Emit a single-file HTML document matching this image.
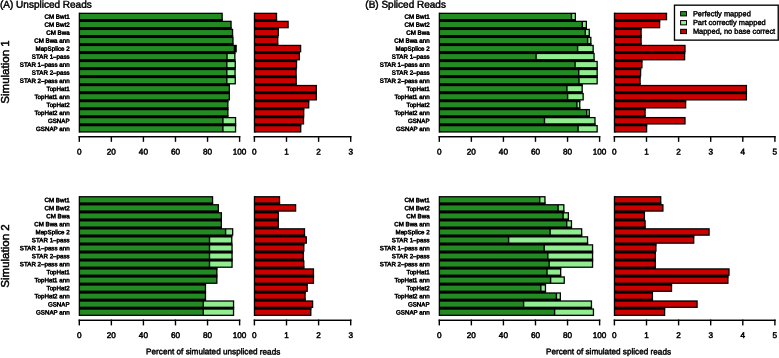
<!DOCTYPE html>
<html><head><meta charset="utf-8"><title>Figure</title>
<style>
html,body{margin:0;padding:0;background:#fff;}
body{width:779px;height:358px;overflow:hidden;position:relative;font-family:"Liberation Sans",sans-serif;color:#000;}
#c{position:absolute;left:0;top:0;width:779px;height:358px;overflow:hidden;will-change:transform;}
#c div{position:absolute;}
#c span{position:absolute;left:0;top:0;white-space:nowrap;display:block;transform-origin:0 0;}
.tk{width:40px;text-align:center;font-size:8.2px;line-height:10px;height:10px;-webkit-text-stroke:0.5px #000;}
.lb{text-align:right;font-size:6.2px;line-height:8px;height:8px;-webkit-text-stroke:0.5px #000;}
.tt{font-size:10px;line-height:12px;-webkit-text-stroke:0.45px #000;}
.xt{text-align:center;font-size:8.2px;line-height:10px;-webkit-text-stroke:0.45px #000;}
#c .yt{text-align:center;font-size:11.5px;line-height:16px;height:16px;transform:scaleX(1.02) rotate(-90deg);transform-origin:50% 50%;-webkit-text-stroke:0.48px #000;}
.lt{font-size:7.45px;line-height:10px;height:10px;-webkit-text-stroke:0.42px #000;}
</style></head><body><div id="c">
<svg width="779" height="358" viewBox="0 0 779 358" style="position:absolute;left:0;top:0">
<rect x="78.70" y="12.70" width="1.60" height="119.88" fill="#000"/>
<rect x="79.30" y="12.70" width="143.50" height="7.60" fill="#000"/>
<rect x="79.30" y="19.00" width="143.50" height="3.02" fill="#000"/>
<rect x="80.05" y="14.00" width="141.45" height="5.00" fill="#228B22"/>
<rect x="79.30" y="20.72" width="152.40" height="7.60" fill="#000"/>
<rect x="79.30" y="27.02" width="152.40" height="3.02" fill="#000"/>
<rect x="80.05" y="22.02" width="150.35" height="5.00" fill="#228B22"/>
<rect x="79.30" y="28.74" width="153.90" height="7.60" fill="#000"/>
<rect x="79.30" y="35.04" width="153.90" height="3.02" fill="#000"/>
<rect x="80.05" y="30.04" width="151.85" height="5.00" fill="#228B22"/>
<rect x="79.30" y="36.76" width="154.30" height="7.60" fill="#000"/>
<rect x="79.30" y="43.06" width="154.30" height="3.02" fill="#000"/>
<rect x="80.05" y="38.06" width="152.25" height="5.00" fill="#228B22"/>
<rect x="79.30" y="44.78" width="157.50" height="7.60" fill="#000"/>
<rect x="79.30" y="51.08" width="156.20" height="3.02" fill="#000"/>
<rect x="80.05" y="46.08" width="153.65" height="5.00" fill="#228B22"/>
<rect x="79.30" y="52.80" width="156.20" height="7.60" fill="#000"/>
<rect x="79.30" y="59.10" width="156.20" height="3.02" fill="#000"/>
<rect x="80.05" y="54.10" width="146.25" height="5.00" fill="#228B22"/>
<rect x="227.70" y="54.10" width="6.50" height="5.00" fill="#90EE90"/>
<rect x="79.30" y="60.82" width="156.60" height="7.60" fill="#000"/>
<rect x="79.30" y="67.12" width="156.40" height="3.02" fill="#000"/>
<rect x="80.05" y="62.12" width="146.05" height="5.00" fill="#228B22"/>
<rect x="227.50" y="62.12" width="7.10" height="5.00" fill="#90EE90"/>
<rect x="79.30" y="68.84" width="156.40" height="7.60" fill="#000"/>
<rect x="79.30" y="75.14" width="156.40" height="3.02" fill="#000"/>
<rect x="80.05" y="70.14" width="146.05" height="5.00" fill="#228B22"/>
<rect x="227.50" y="70.14" width="6.90" height="5.00" fill="#90EE90"/>
<rect x="79.30" y="76.86" width="156.60" height="7.60" fill="#000"/>
<rect x="79.30" y="83.16" width="150.70" height="3.02" fill="#000"/>
<rect x="80.05" y="78.16" width="146.05" height="5.00" fill="#228B22"/>
<rect x="227.50" y="78.16" width="7.10" height="5.00" fill="#90EE90"/>
<rect x="79.30" y="84.88" width="150.70" height="7.60" fill="#000"/>
<rect x="79.30" y="91.18" width="150.70" height="3.02" fill="#000"/>
<rect x="80.05" y="86.18" width="148.65" height="5.00" fill="#228B22"/>
<rect x="79.30" y="92.90" width="150.70" height="7.60" fill="#000"/>
<rect x="79.30" y="99.20" width="149.20" height="3.02" fill="#000"/>
<rect x="80.05" y="94.20" width="148.65" height="5.00" fill="#228B22"/>
<rect x="79.30" y="100.92" width="149.20" height="7.60" fill="#000"/>
<rect x="79.30" y="107.22" width="149.20" height="3.02" fill="#000"/>
<rect x="80.05" y="102.22" width="147.15" height="5.00" fill="#228B22"/>
<rect x="79.30" y="108.94" width="149.20" height="7.60" fill="#000"/>
<rect x="79.30" y="115.24" width="149.20" height="3.02" fill="#000"/>
<rect x="80.05" y="110.24" width="147.15" height="5.00" fill="#228B22"/>
<rect x="79.30" y="116.96" width="156.90" height="7.60" fill="#000"/>
<rect x="79.30" y="123.26" width="156.90" height="3.02" fill="#000"/>
<rect x="80.05" y="118.26" width="142.15" height="5.00" fill="#228B22"/>
<rect x="223.60" y="118.26" width="11.30" height="5.00" fill="#90EE90"/>
<rect x="79.30" y="124.98" width="156.90" height="7.60" fill="#000"/>
<rect x="80.05" y="126.28" width="142.15" height="5.00" fill="#228B22"/>
<rect x="223.60" y="126.28" width="11.30" height="5.00" fill="#90EE90"/>
<rect x="253.80" y="12.70" width="1.60" height="119.88" fill="#000"/>
<rect x="254.40" y="12.70" width="22.75" height="7.60" fill="#000"/>
<rect x="254.40" y="19.00" width="22.75" height="3.02" fill="#000"/>
<rect x="255.15" y="14.00" width="20.70" height="5.00" fill="#CD0000"/>
<rect x="254.40" y="20.72" width="34.35" height="7.60" fill="#000"/>
<rect x="254.40" y="27.02" width="24.55" height="3.02" fill="#000"/>
<rect x="255.15" y="22.02" width="32.30" height="5.00" fill="#CD0000"/>
<rect x="254.40" y="28.74" width="24.55" height="7.60" fill="#000"/>
<rect x="254.40" y="35.04" width="23.95" height="3.02" fill="#000"/>
<rect x="255.15" y="30.04" width="22.50" height="5.00" fill="#CD0000"/>
<rect x="254.40" y="36.76" width="23.95" height="7.60" fill="#000"/>
<rect x="254.40" y="43.06" width="23.95" height="3.02" fill="#000"/>
<rect x="255.15" y="38.06" width="21.90" height="5.00" fill="#CD0000"/>
<rect x="254.40" y="44.78" width="46.85" height="7.60" fill="#000"/>
<rect x="254.40" y="51.08" width="45.55" height="3.02" fill="#000"/>
<rect x="255.15" y="46.08" width="44.80" height="5.00" fill="#CD0000"/>
<rect x="254.40" y="52.80" width="45.55" height="7.60" fill="#000"/>
<rect x="254.40" y="59.10" width="42.75" height="3.02" fill="#000"/>
<rect x="255.15" y="54.10" width="43.50" height="5.00" fill="#CD0000"/>
<rect x="254.40" y="60.82" width="42.75" height="7.60" fill="#000"/>
<rect x="254.40" y="67.12" width="42.35" height="3.02" fill="#000"/>
<rect x="255.15" y="62.12" width="40.70" height="5.00" fill="#CD0000"/>
<rect x="254.40" y="68.84" width="42.35" height="7.60" fill="#000"/>
<rect x="254.40" y="75.14" width="42.35" height="3.02" fill="#000"/>
<rect x="255.15" y="70.14" width="40.30" height="5.00" fill="#CD0000"/>
<rect x="254.40" y="76.86" width="42.45" height="7.60" fill="#000"/>
<rect x="254.40" y="83.16" width="42.45" height="3.02" fill="#000"/>
<rect x="255.15" y="78.16" width="40.40" height="5.00" fill="#CD0000"/>
<rect x="254.40" y="84.88" width="62.55" height="7.60" fill="#000"/>
<rect x="254.40" y="91.18" width="62.55" height="3.02" fill="#000"/>
<rect x="255.15" y="86.18" width="60.50" height="5.00" fill="#CD0000"/>
<rect x="254.40" y="92.90" width="62.55" height="7.60" fill="#000"/>
<rect x="254.40" y="99.20" width="54.95" height="3.02" fill="#000"/>
<rect x="255.15" y="94.20" width="60.50" height="5.00" fill="#CD0000"/>
<rect x="254.40" y="100.92" width="54.95" height="7.60" fill="#000"/>
<rect x="254.40" y="107.22" width="49.95" height="3.02" fill="#000"/>
<rect x="255.15" y="102.22" width="52.90" height="5.00" fill="#CD0000"/>
<rect x="254.40" y="108.94" width="49.95" height="7.60" fill="#000"/>
<rect x="254.40" y="115.24" width="49.75" height="3.02" fill="#000"/>
<rect x="255.15" y="110.24" width="47.90" height="5.00" fill="#CD0000"/>
<rect x="254.40" y="116.96" width="49.75" height="7.60" fill="#000"/>
<rect x="254.40" y="123.26" width="46.95" height="3.02" fill="#000"/>
<rect x="255.15" y="118.26" width="47.70" height="5.00" fill="#CD0000"/>
<rect x="254.40" y="124.98" width="46.95" height="7.60" fill="#000"/>
<rect x="255.15" y="126.28" width="44.90" height="5.00" fill="#CD0000"/>
<rect x="438.70" y="12.70" width="1.60" height="119.88" fill="#000"/>
<rect x="439.30" y="12.70" width="136.70" height="7.60" fill="#000"/>
<rect x="439.30" y="19.00" width="136.70" height="3.02" fill="#000"/>
<rect x="440.05" y="14.00" width="130.75" height="5.00" fill="#228B22"/>
<rect x="572.20" y="14.00" width="2.50" height="5.00" fill="#90EE90"/>
<rect x="439.30" y="20.72" width="147.70" height="7.60" fill="#000"/>
<rect x="439.30" y="27.02" width="147.70" height="3.02" fill="#000"/>
<rect x="440.05" y="22.02" width="141.55" height="5.00" fill="#228B22"/>
<rect x="583.00" y="22.02" width="2.70" height="5.00" fill="#90EE90"/>
<rect x="439.30" y="28.74" width="150.60" height="7.60" fill="#000"/>
<rect x="439.30" y="35.04" width="150.60" height="3.02" fill="#000"/>
<rect x="440.05" y="30.04" width="144.55" height="5.00" fill="#228B22"/>
<rect x="586.00" y="30.04" width="2.60" height="5.00" fill="#90EE90"/>
<rect x="439.30" y="36.76" width="152.20" height="7.60" fill="#000"/>
<rect x="439.30" y="43.06" width="152.20" height="3.02" fill="#000"/>
<rect x="440.05" y="38.06" width="146.85" height="5.00" fill="#228B22"/>
<rect x="588.30" y="38.06" width="1.90" height="5.00" fill="#90EE90"/>
<rect x="439.30" y="44.78" width="154.50" height="7.60" fill="#000"/>
<rect x="439.30" y="51.08" width="154.50" height="3.02" fill="#000"/>
<rect x="440.05" y="46.08" width="136.85" height="5.00" fill="#228B22"/>
<rect x="578.30" y="46.08" width="14.20" height="5.00" fill="#90EE90"/>
<rect x="439.30" y="52.80" width="155.40" height="7.60" fill="#000"/>
<rect x="439.30" y="59.10" width="155.40" height="3.02" fill="#000"/>
<rect x="440.05" y="54.10" width="95.35" height="5.00" fill="#228B22"/>
<rect x="536.80" y="54.10" width="56.60" height="5.00" fill="#90EE90"/>
<rect x="439.30" y="60.82" width="158.50" height="7.60" fill="#000"/>
<rect x="439.30" y="67.12" width="158.50" height="3.02" fill="#000"/>
<rect x="440.05" y="62.12" width="134.35" height="5.00" fill="#228B22"/>
<rect x="575.80" y="62.12" width="20.70" height="5.00" fill="#90EE90"/>
<rect x="439.30" y="68.84" width="158.50" height="7.60" fill="#000"/>
<rect x="439.30" y="75.14" width="158.50" height="3.02" fill="#000"/>
<rect x="440.05" y="70.14" width="137.95" height="5.00" fill="#228B22"/>
<rect x="579.40" y="70.14" width="17.10" height="5.00" fill="#90EE90"/>
<rect x="439.30" y="76.86" width="158.50" height="7.60" fill="#000"/>
<rect x="439.30" y="83.16" width="143.50" height="3.02" fill="#000"/>
<rect x="440.05" y="78.16" width="138.25" height="5.00" fill="#228B22"/>
<rect x="579.70" y="78.16" width="16.80" height="5.00" fill="#90EE90"/>
<rect x="439.30" y="84.88" width="143.50" height="7.60" fill="#000"/>
<rect x="439.30" y="91.18" width="143.50" height="3.02" fill="#000"/>
<rect x="440.05" y="86.18" width="126.15" height="5.00" fill="#228B22"/>
<rect x="567.60" y="86.18" width="13.90" height="5.00" fill="#90EE90"/>
<rect x="439.30" y="92.90" width="144.50" height="7.60" fill="#000"/>
<rect x="439.30" y="99.20" width="141.10" height="3.02" fill="#000"/>
<rect x="440.05" y="94.20" width="126.85" height="5.00" fill="#228B22"/>
<rect x="568.30" y="94.20" width="14.20" height="5.00" fill="#90EE90"/>
<rect x="439.30" y="100.92" width="141.10" height="7.60" fill="#000"/>
<rect x="439.30" y="107.22" width="141.10" height="3.02" fill="#000"/>
<rect x="440.05" y="102.22" width="136.15" height="5.00" fill="#228B22"/>
<rect x="577.60" y="102.22" width="1.50" height="5.00" fill="#90EE90"/>
<rect x="439.30" y="108.94" width="150.60" height="7.60" fill="#000"/>
<rect x="439.30" y="115.24" width="150.60" height="3.02" fill="#000"/>
<rect x="440.05" y="110.24" width="145.95" height="5.00" fill="#228B22"/>
<rect x="587.40" y="110.24" width="1.20" height="5.00" fill="#90EE90"/>
<rect x="439.30" y="116.96" width="156.30" height="7.60" fill="#000"/>
<rect x="439.30" y="123.26" width="156.30" height="3.02" fill="#000"/>
<rect x="440.05" y="118.26" width="103.75" height="5.00" fill="#228B22"/>
<rect x="545.20" y="118.26" width="49.10" height="5.00" fill="#90EE90"/>
<rect x="439.30" y="124.98" width="158.50" height="7.60" fill="#000"/>
<rect x="440.05" y="126.28" width="137.35" height="5.00" fill="#228B22"/>
<rect x="578.80" y="126.28" width="17.70" height="5.00" fill="#90EE90"/>
<rect x="613.80" y="12.70" width="1.60" height="119.88" fill="#000"/>
<rect x="614.40" y="12.70" width="52.75" height="7.60" fill="#000"/>
<rect x="614.40" y="19.00" width="45.85" height="3.02" fill="#000"/>
<rect x="615.15" y="14.00" width="50.70" height="5.00" fill="#CD0000"/>
<rect x="614.40" y="20.72" width="45.85" height="7.60" fill="#000"/>
<rect x="614.40" y="27.02" width="27.35" height="3.02" fill="#000"/>
<rect x="615.15" y="22.02" width="43.80" height="5.00" fill="#CD0000"/>
<rect x="614.40" y="28.74" width="27.35" height="7.60" fill="#000"/>
<rect x="614.40" y="35.04" width="27.35" height="3.02" fill="#000"/>
<rect x="615.15" y="30.04" width="25.30" height="5.00" fill="#CD0000"/>
<rect x="614.40" y="36.76" width="27.35" height="7.60" fill="#000"/>
<rect x="614.40" y="43.06" width="27.35" height="3.02" fill="#000"/>
<rect x="615.15" y="38.06" width="25.30" height="5.00" fill="#CD0000"/>
<rect x="614.40" y="44.78" width="71.25" height="7.60" fill="#000"/>
<rect x="614.40" y="51.08" width="70.85" height="3.02" fill="#000"/>
<rect x="615.15" y="46.08" width="69.20" height="5.00" fill="#CD0000"/>
<rect x="614.40" y="52.80" width="70.85" height="7.60" fill="#000"/>
<rect x="614.40" y="59.10" width="28.15" height="3.02" fill="#000"/>
<rect x="615.15" y="54.10" width="68.80" height="5.00" fill="#CD0000"/>
<rect x="614.40" y="60.82" width="28.15" height="7.60" fill="#000"/>
<rect x="614.40" y="67.12" width="26.85" height="3.02" fill="#000"/>
<rect x="615.15" y="62.12" width="26.10" height="5.00" fill="#CD0000"/>
<rect x="614.40" y="68.84" width="26.85" height="7.60" fill="#000"/>
<rect x="614.40" y="75.14" width="26.35" height="3.02" fill="#000"/>
<rect x="615.15" y="70.14" width="24.80" height="5.00" fill="#CD0000"/>
<rect x="614.40" y="76.86" width="26.35" height="7.60" fill="#000"/>
<rect x="614.40" y="83.16" width="26.35" height="3.02" fill="#000"/>
<rect x="615.15" y="78.16" width="24.30" height="5.00" fill="#CD0000"/>
<rect x="614.40" y="84.88" width="132.65" height="7.60" fill="#000"/>
<rect x="614.40" y="91.18" width="132.65" height="3.02" fill="#000"/>
<rect x="615.15" y="86.18" width="130.60" height="5.00" fill="#CD0000"/>
<rect x="614.40" y="92.90" width="132.65" height="7.60" fill="#000"/>
<rect x="614.40" y="99.20" width="71.85" height="3.02" fill="#000"/>
<rect x="615.15" y="94.20" width="130.60" height="5.00" fill="#CD0000"/>
<rect x="614.40" y="100.92" width="71.85" height="7.60" fill="#000"/>
<rect x="614.40" y="107.22" width="31.35" height="3.02" fill="#000"/>
<rect x="615.15" y="102.22" width="69.80" height="5.00" fill="#CD0000"/>
<rect x="614.40" y="108.94" width="31.35" height="7.60" fill="#000"/>
<rect x="614.40" y="115.24" width="31.35" height="3.02" fill="#000"/>
<rect x="615.15" y="110.24" width="29.30" height="5.00" fill="#CD0000"/>
<rect x="614.40" y="116.96" width="71.25" height="7.60" fill="#000"/>
<rect x="614.40" y="123.26" width="32.85" height="3.02" fill="#000"/>
<rect x="615.15" y="118.26" width="69.20" height="5.00" fill="#CD0000"/>
<rect x="614.40" y="124.98" width="32.85" height="7.60" fill="#000"/>
<rect x="615.15" y="126.28" width="30.80" height="5.00" fill="#CD0000"/>
<rect x="78.60" y="136.00" width="161.70" height="1.45" fill="#000"/>
<rect x="78.60" y="136.00" width="1.40" height="5.85" fill="#000"/>
<rect x="110.66" y="136.00" width="1.40" height="5.85" fill="#000"/>
<rect x="142.72" y="136.00" width="1.40" height="5.85" fill="#000"/>
<rect x="174.78" y="136.00" width="1.40" height="5.85" fill="#000"/>
<rect x="206.84" y="136.00" width="1.40" height="5.85" fill="#000"/>
<rect x="238.90" y="136.00" width="1.40" height="5.85" fill="#000"/>
<rect x="253.70" y="136.00" width="97.70" height="1.45" fill="#000"/>
<rect x="253.70" y="136.00" width="1.40" height="5.85" fill="#000"/>
<rect x="285.80" y="136.00" width="1.40" height="5.85" fill="#000"/>
<rect x="317.90" y="136.00" width="1.40" height="5.85" fill="#000"/>
<rect x="350.00" y="136.00" width="1.40" height="5.85" fill="#000"/>
<rect x="438.60" y="136.00" width="161.70" height="1.45" fill="#000"/>
<rect x="438.60" y="136.00" width="1.40" height="5.85" fill="#000"/>
<rect x="470.66" y="136.00" width="1.40" height="5.85" fill="#000"/>
<rect x="502.72" y="136.00" width="1.40" height="5.85" fill="#000"/>
<rect x="534.78" y="136.00" width="1.40" height="5.85" fill="#000"/>
<rect x="566.84" y="136.00" width="1.40" height="5.85" fill="#000"/>
<rect x="598.90" y="136.00" width="1.40" height="5.85" fill="#000"/>
<rect x="613.70" y="136.00" width="161.90" height="1.45" fill="#000"/>
<rect x="613.70" y="136.00" width="1.40" height="5.85" fill="#000"/>
<rect x="645.80" y="136.00" width="1.40" height="5.85" fill="#000"/>
<rect x="677.90" y="136.00" width="1.40" height="5.85" fill="#000"/>
<rect x="710.00" y="136.00" width="1.40" height="5.85" fill="#000"/>
<rect x="742.10" y="136.00" width="1.40" height="5.85" fill="#000"/>
<rect x="774.20" y="136.00" width="1.40" height="5.85" fill="#000"/>
<rect x="78.70" y="196.10" width="1.60" height="119.88" fill="#000"/>
<rect x="79.30" y="196.10" width="133.90" height="7.60" fill="#000"/>
<rect x="79.30" y="202.40" width="133.90" height="3.02" fill="#000"/>
<rect x="80.05" y="197.40" width="131.85" height="5.00" fill="#228B22"/>
<rect x="79.30" y="204.12" width="139.70" height="7.60" fill="#000"/>
<rect x="79.30" y="210.42" width="139.70" height="3.02" fill="#000"/>
<rect x="80.05" y="205.42" width="137.65" height="5.00" fill="#228B22"/>
<rect x="79.30" y="212.14" width="142.70" height="7.60" fill="#000"/>
<rect x="79.30" y="218.44" width="142.70" height="3.02" fill="#000"/>
<rect x="80.05" y="213.44" width="140.65" height="5.00" fill="#228B22"/>
<rect x="79.30" y="220.16" width="142.70" height="7.60" fill="#000"/>
<rect x="79.30" y="226.46" width="142.70" height="3.02" fill="#000"/>
<rect x="80.05" y="221.46" width="140.65" height="5.00" fill="#228B22"/>
<rect x="79.30" y="228.18" width="154.00" height="7.60" fill="#000"/>
<rect x="79.30" y="234.48" width="153.10" height="3.02" fill="#000"/>
<rect x="80.05" y="229.48" width="144.85" height="5.00" fill="#228B22"/>
<rect x="226.30" y="229.48" width="5.70" height="5.00" fill="#90EE90"/>
<rect x="79.30" y="236.20" width="153.10" height="7.60" fill="#000"/>
<rect x="79.30" y="242.50" width="153.10" height="3.02" fill="#000"/>
<rect x="80.05" y="237.50" width="128.75" height="5.00" fill="#228B22"/>
<rect x="210.20" y="237.50" width="20.90" height="5.00" fill="#90EE90"/>
<rect x="79.30" y="244.22" width="153.40" height="7.60" fill="#000"/>
<rect x="79.30" y="250.52" width="153.40" height="3.02" fill="#000"/>
<rect x="80.05" y="245.52" width="128.75" height="5.00" fill="#228B22"/>
<rect x="210.20" y="245.52" width="21.20" height="5.00" fill="#90EE90"/>
<rect x="79.30" y="252.24" width="153.40" height="7.60" fill="#000"/>
<rect x="79.30" y="258.54" width="153.40" height="3.02" fill="#000"/>
<rect x="80.05" y="253.54" width="128.75" height="5.00" fill="#228B22"/>
<rect x="210.20" y="253.54" width="21.20" height="5.00" fill="#90EE90"/>
<rect x="79.30" y="260.26" width="153.40" height="7.60" fill="#000"/>
<rect x="79.30" y="266.56" width="138.20" height="3.02" fill="#000"/>
<rect x="80.05" y="261.56" width="128.75" height="5.00" fill="#228B22"/>
<rect x="210.20" y="261.56" width="21.20" height="5.00" fill="#90EE90"/>
<rect x="79.30" y="268.28" width="138.20" height="7.60" fill="#000"/>
<rect x="79.30" y="274.58" width="138.20" height="3.02" fill="#000"/>
<rect x="80.05" y="269.58" width="136.15" height="5.00" fill="#228B22"/>
<rect x="79.30" y="276.30" width="138.20" height="7.60" fill="#000"/>
<rect x="79.30" y="282.60" width="126.80" height="3.02" fill="#000"/>
<rect x="80.05" y="277.60" width="136.15" height="5.00" fill="#228B22"/>
<rect x="79.30" y="284.32" width="126.80" height="7.60" fill="#000"/>
<rect x="79.30" y="290.62" width="126.80" height="3.02" fill="#000"/>
<rect x="80.05" y="285.62" width="124.75" height="5.00" fill="#228B22"/>
<rect x="79.30" y="292.34" width="126.80" height="7.60" fill="#000"/>
<rect x="79.30" y="298.64" width="126.80" height="3.02" fill="#000"/>
<rect x="80.05" y="293.64" width="124.75" height="5.00" fill="#228B22"/>
<rect x="79.30" y="300.36" width="154.90" height="7.60" fill="#000"/>
<rect x="79.30" y="306.66" width="154.90" height="3.02" fill="#000"/>
<rect x="80.05" y="301.66" width="122.55" height="5.00" fill="#228B22"/>
<rect x="204.00" y="301.66" width="28.90" height="5.00" fill="#90EE90"/>
<rect x="79.30" y="308.38" width="154.90" height="7.60" fill="#000"/>
<rect x="80.05" y="309.68" width="122.55" height="5.00" fill="#228B22"/>
<rect x="204.00" y="309.68" width="28.90" height="5.00" fill="#90EE90"/>
<rect x="253.80" y="196.10" width="1.60" height="119.88" fill="#000"/>
<rect x="254.40" y="196.10" width="25.75" height="7.60" fill="#000"/>
<rect x="254.40" y="202.40" width="25.75" height="3.02" fill="#000"/>
<rect x="255.15" y="197.40" width="23.70" height="5.00" fill="#CD0000"/>
<rect x="254.40" y="204.12" width="41.85" height="7.60" fill="#000"/>
<rect x="254.40" y="210.42" width="24.55" height="3.02" fill="#000"/>
<rect x="255.15" y="205.42" width="39.80" height="5.00" fill="#CD0000"/>
<rect x="254.40" y="212.14" width="24.55" height="7.60" fill="#000"/>
<rect x="254.40" y="218.44" width="24.55" height="3.02" fill="#000"/>
<rect x="255.15" y="213.44" width="22.50" height="5.00" fill="#CD0000"/>
<rect x="254.40" y="220.16" width="24.55" height="7.60" fill="#000"/>
<rect x="254.40" y="226.46" width="24.55" height="3.02" fill="#000"/>
<rect x="255.15" y="221.46" width="22.50" height="5.00" fill="#CD0000"/>
<rect x="254.40" y="228.18" width="50.75" height="7.60" fill="#000"/>
<rect x="254.40" y="234.48" width="50.75" height="3.02" fill="#000"/>
<rect x="255.15" y="229.48" width="48.70" height="5.00" fill="#CD0000"/>
<rect x="254.40" y="236.20" width="52.55" height="7.60" fill="#000"/>
<rect x="254.40" y="242.50" width="50.05" height="3.02" fill="#000"/>
<rect x="255.15" y="237.50" width="50.50" height="5.00" fill="#CD0000"/>
<rect x="254.40" y="244.22" width="50.05" height="7.60" fill="#000"/>
<rect x="254.40" y="250.52" width="49.55" height="3.02" fill="#000"/>
<rect x="255.15" y="245.52" width="48.00" height="5.00" fill="#CD0000"/>
<rect x="254.40" y="252.24" width="49.55" height="7.60" fill="#000"/>
<rect x="254.40" y="258.54" width="49.55" height="3.02" fill="#000"/>
<rect x="255.15" y="253.54" width="47.50" height="5.00" fill="#CD0000"/>
<rect x="254.40" y="260.26" width="50.05" height="7.60" fill="#000"/>
<rect x="254.40" y="266.56" width="50.05" height="3.02" fill="#000"/>
<rect x="255.15" y="261.56" width="48.00" height="5.00" fill="#CD0000"/>
<rect x="254.40" y="268.28" width="59.70" height="7.60" fill="#000"/>
<rect x="254.40" y="274.58" width="59.70" height="3.02" fill="#000"/>
<rect x="255.15" y="269.58" width="57.65" height="5.00" fill="#CD0000"/>
<rect x="254.40" y="276.30" width="59.70" height="7.60" fill="#000"/>
<rect x="254.40" y="282.60" width="53.45" height="3.02" fill="#000"/>
<rect x="255.15" y="277.60" width="57.65" height="5.00" fill="#CD0000"/>
<rect x="254.40" y="284.32" width="53.45" height="7.60" fill="#000"/>
<rect x="254.40" y="290.62" width="51.35" height="3.02" fill="#000"/>
<rect x="255.15" y="285.62" width="51.40" height="5.00" fill="#CD0000"/>
<rect x="254.40" y="292.34" width="51.35" height="7.60" fill="#000"/>
<rect x="254.40" y="298.64" width="51.35" height="3.02" fill="#000"/>
<rect x="255.15" y="293.64" width="49.30" height="5.00" fill="#CD0000"/>
<rect x="254.40" y="300.36" width="58.85" height="7.60" fill="#000"/>
<rect x="254.40" y="306.66" width="57.05" height="3.02" fill="#000"/>
<rect x="255.15" y="301.66" width="56.80" height="5.00" fill="#CD0000"/>
<rect x="254.40" y="308.38" width="57.05" height="7.60" fill="#000"/>
<rect x="255.15" y="309.68" width="55.00" height="5.00" fill="#CD0000"/>
<rect x="438.70" y="196.10" width="1.60" height="119.88" fill="#000"/>
<rect x="439.30" y="196.10" width="106.30" height="7.60" fill="#000"/>
<rect x="439.30" y="202.40" width="106.30" height="3.02" fill="#000"/>
<rect x="440.05" y="197.40" width="98.95" height="5.00" fill="#228B22"/>
<rect x="540.40" y="197.40" width="3.90" height="5.00" fill="#90EE90"/>
<rect x="439.30" y="204.12" width="125.20" height="7.60" fill="#000"/>
<rect x="439.30" y="210.42" width="125.20" height="3.02" fill="#000"/>
<rect x="440.05" y="205.42" width="117.35" height="5.00" fill="#228B22"/>
<rect x="558.80" y="205.42" width="4.40" height="5.00" fill="#90EE90"/>
<rect x="439.30" y="212.14" width="129.70" height="7.60" fill="#000"/>
<rect x="439.30" y="218.44" width="129.70" height="3.02" fill="#000"/>
<rect x="440.05" y="213.44" width="122.35" height="5.00" fill="#228B22"/>
<rect x="563.80" y="213.44" width="3.90" height="5.00" fill="#90EE90"/>
<rect x="439.30" y="220.16" width="132.80" height="7.60" fill="#000"/>
<rect x="439.30" y="226.46" width="132.80" height="3.02" fill="#000"/>
<rect x="440.05" y="221.46" width="125.95" height="5.00" fill="#228B22"/>
<rect x="567.40" y="221.46" width="3.40" height="5.00" fill="#90EE90"/>
<rect x="439.30" y="228.18" width="143.00" height="7.60" fill="#000"/>
<rect x="439.30" y="234.48" width="143.00" height="3.02" fill="#000"/>
<rect x="440.05" y="229.48" width="109.35" height="5.00" fill="#228B22"/>
<rect x="550.80" y="229.48" width="30.20" height="5.00" fill="#90EE90"/>
<rect x="439.30" y="236.20" width="148.90" height="7.60" fill="#000"/>
<rect x="439.30" y="242.50" width="148.90" height="3.02" fill="#000"/>
<rect x="440.05" y="237.50" width="67.85" height="5.00" fill="#228B22"/>
<rect x="509.30" y="237.50" width="77.60" height="5.00" fill="#90EE90"/>
<rect x="439.30" y="244.22" width="153.90" height="7.60" fill="#000"/>
<rect x="439.30" y="250.52" width="153.90" height="3.02" fill="#000"/>
<rect x="440.05" y="245.52" width="103.45" height="5.00" fill="#228B22"/>
<rect x="544.90" y="245.52" width="47.00" height="5.00" fill="#90EE90"/>
<rect x="439.30" y="252.24" width="153.90" height="7.60" fill="#000"/>
<rect x="439.30" y="258.54" width="153.90" height="3.02" fill="#000"/>
<rect x="440.05" y="253.54" width="107.05" height="5.00" fill="#228B22"/>
<rect x="548.50" y="253.54" width="43.40" height="5.00" fill="#90EE90"/>
<rect x="439.30" y="260.26" width="153.90" height="7.60" fill="#000"/>
<rect x="439.30" y="266.56" width="122.00" height="3.02" fill="#000"/>
<rect x="440.05" y="261.56" width="108.45" height="5.00" fill="#228B22"/>
<rect x="549.90" y="261.56" width="42.00" height="5.00" fill="#90EE90"/>
<rect x="439.30" y="268.28" width="122.00" height="7.60" fill="#000"/>
<rect x="439.30" y="274.58" width="122.00" height="3.02" fill="#000"/>
<rect x="440.05" y="269.58" width="106.25" height="5.00" fill="#228B22"/>
<rect x="547.70" y="269.58" width="12.30" height="5.00" fill="#90EE90"/>
<rect x="439.30" y="276.30" width="125.60" height="7.60" fill="#000"/>
<rect x="439.30" y="282.60" width="106.80" height="3.02" fill="#000"/>
<rect x="440.05" y="277.60" width="109.85" height="5.00" fill="#228B22"/>
<rect x="551.30" y="277.60" width="12.30" height="5.00" fill="#90EE90"/>
<rect x="439.30" y="284.32" width="106.80" height="7.60" fill="#000"/>
<rect x="439.30" y="290.62" width="106.80" height="3.02" fill="#000"/>
<rect x="440.05" y="285.62" width="100.05" height="5.00" fill="#228B22"/>
<rect x="541.50" y="285.62" width="3.30" height="5.00" fill="#90EE90"/>
<rect x="439.30" y="292.34" width="121.70" height="7.60" fill="#000"/>
<rect x="439.30" y="298.64" width="121.70" height="3.02" fill="#000"/>
<rect x="440.05" y="293.64" width="115.65" height="5.00" fill="#228B22"/>
<rect x="557.10" y="293.64" width="2.60" height="5.00" fill="#90EE90"/>
<rect x="439.30" y="300.36" width="152.80" height="7.60" fill="#000"/>
<rect x="439.30" y="306.66" width="152.80" height="3.02" fill="#000"/>
<rect x="440.05" y="301.66" width="82.85" height="5.00" fill="#228B22"/>
<rect x="524.30" y="301.66" width="66.50" height="5.00" fill="#90EE90"/>
<rect x="439.30" y="308.38" width="154.80" height="7.60" fill="#000"/>
<rect x="440.05" y="309.68" width="113.85" height="5.00" fill="#228B22"/>
<rect x="555.30" y="309.68" width="37.50" height="5.00" fill="#90EE90"/>
<rect x="613.80" y="196.10" width="1.60" height="119.88" fill="#000"/>
<rect x="614.40" y="196.10" width="46.95" height="7.60" fill="#000"/>
<rect x="614.40" y="202.40" width="46.95" height="3.02" fill="#000"/>
<rect x="615.15" y="197.40" width="44.90" height="5.00" fill="#CD0000"/>
<rect x="614.40" y="204.12" width="49.15" height="7.60" fill="#000"/>
<rect x="614.40" y="210.42" width="30.65" height="3.02" fill="#000"/>
<rect x="615.15" y="205.42" width="47.10" height="5.00" fill="#CD0000"/>
<rect x="614.40" y="212.14" width="30.65" height="7.60" fill="#000"/>
<rect x="614.40" y="218.44" width="30.65" height="3.02" fill="#000"/>
<rect x="615.15" y="213.44" width="28.60" height="5.00" fill="#CD0000"/>
<rect x="614.40" y="220.16" width="31.35" height="7.60" fill="#000"/>
<rect x="614.40" y="226.46" width="31.35" height="3.02" fill="#000"/>
<rect x="615.15" y="221.46" width="29.30" height="5.00" fill="#CD0000"/>
<rect x="614.40" y="228.18" width="95.35" height="7.60" fill="#000"/>
<rect x="614.40" y="234.48" width="79.95" height="3.02" fill="#000"/>
<rect x="615.15" y="229.48" width="93.30" height="5.00" fill="#CD0000"/>
<rect x="614.40" y="236.20" width="79.95" height="7.60" fill="#000"/>
<rect x="614.40" y="242.50" width="42.15" height="3.02" fill="#000"/>
<rect x="615.15" y="237.50" width="77.90" height="5.00" fill="#CD0000"/>
<rect x="614.40" y="244.22" width="42.15" height="7.60" fill="#000"/>
<rect x="614.40" y="250.52" width="41.55" height="3.02" fill="#000"/>
<rect x="615.15" y="245.52" width="40.10" height="5.00" fill="#CD0000"/>
<rect x="614.40" y="252.24" width="41.55" height="7.60" fill="#000"/>
<rect x="614.40" y="258.54" width="41.55" height="3.02" fill="#000"/>
<rect x="615.15" y="253.54" width="39.50" height="5.00" fill="#CD0000"/>
<rect x="614.40" y="260.26" width="41.55" height="7.60" fill="#000"/>
<rect x="614.40" y="266.56" width="41.55" height="3.02" fill="#000"/>
<rect x="615.15" y="261.56" width="39.50" height="5.00" fill="#CD0000"/>
<rect x="614.40" y="268.28" width="115.25" height="7.60" fill="#000"/>
<rect x="614.40" y="274.58" width="114.15" height="3.02" fill="#000"/>
<rect x="615.15" y="269.58" width="113.20" height="5.00" fill="#CD0000"/>
<rect x="614.40" y="276.30" width="114.15" height="7.60" fill="#000"/>
<rect x="614.40" y="282.60" width="57.75" height="3.02" fill="#000"/>
<rect x="615.15" y="277.60" width="112.10" height="5.00" fill="#CD0000"/>
<rect x="614.40" y="284.32" width="57.75" height="7.60" fill="#000"/>
<rect x="614.40" y="290.62" width="38.65" height="3.02" fill="#000"/>
<rect x="615.15" y="285.62" width="55.70" height="5.00" fill="#CD0000"/>
<rect x="614.40" y="292.34" width="38.65" height="7.60" fill="#000"/>
<rect x="614.40" y="298.64" width="38.65" height="3.02" fill="#000"/>
<rect x="615.15" y="293.64" width="36.60" height="5.00" fill="#CD0000"/>
<rect x="614.40" y="300.36" width="83.35" height="7.60" fill="#000"/>
<rect x="614.40" y="306.66" width="50.85" height="3.02" fill="#000"/>
<rect x="615.15" y="301.66" width="81.30" height="5.00" fill="#CD0000"/>
<rect x="614.40" y="308.38" width="50.85" height="7.60" fill="#000"/>
<rect x="615.15" y="309.68" width="48.80" height="5.00" fill="#CD0000"/>
<rect x="78.60" y="319.55" width="161.70" height="1.45" fill="#000"/>
<rect x="78.60" y="319.55" width="1.40" height="5.85" fill="#000"/>
<rect x="110.66" y="319.55" width="1.40" height="5.85" fill="#000"/>
<rect x="142.72" y="319.55" width="1.40" height="5.85" fill="#000"/>
<rect x="174.78" y="319.55" width="1.40" height="5.85" fill="#000"/>
<rect x="206.84" y="319.55" width="1.40" height="5.85" fill="#000"/>
<rect x="238.90" y="319.55" width="1.40" height="5.85" fill="#000"/>
<rect x="253.70" y="319.55" width="97.70" height="1.45" fill="#000"/>
<rect x="253.70" y="319.55" width="1.40" height="5.85" fill="#000"/>
<rect x="285.80" y="319.55" width="1.40" height="5.85" fill="#000"/>
<rect x="317.90" y="319.55" width="1.40" height="5.85" fill="#000"/>
<rect x="350.00" y="319.55" width="1.40" height="5.85" fill="#000"/>
<rect x="438.60" y="319.55" width="161.70" height="1.45" fill="#000"/>
<rect x="438.60" y="319.55" width="1.40" height="5.85" fill="#000"/>
<rect x="470.66" y="319.55" width="1.40" height="5.85" fill="#000"/>
<rect x="502.72" y="319.55" width="1.40" height="5.85" fill="#000"/>
<rect x="534.78" y="319.55" width="1.40" height="5.85" fill="#000"/>
<rect x="566.84" y="319.55" width="1.40" height="5.85" fill="#000"/>
<rect x="598.90" y="319.55" width="1.40" height="5.85" fill="#000"/>
<rect x="613.70" y="319.55" width="161.90" height="1.45" fill="#000"/>
<rect x="613.70" y="319.55" width="1.40" height="5.85" fill="#000"/>
<rect x="645.80" y="319.55" width="1.40" height="5.85" fill="#000"/>
<rect x="677.90" y="319.55" width="1.40" height="5.85" fill="#000"/>
<rect x="710.00" y="319.55" width="1.40" height="5.85" fill="#000"/>
<rect x="742.10" y="319.55" width="1.40" height="5.85" fill="#000"/>
<rect x="774.20" y="319.55" width="1.40" height="5.85" fill="#000"/>
<rect x="673.80" y="4.50" width="105.10" height="36.30" fill="#000"/>
<rect x="675.15" y="5.85" width="102.40" height="33.60" fill="#fff"/>
<rect x="680.10" y="11.10" width="6.90" height="5.30" fill="#000"/>
<rect x="681.10" y="12.10" width="4.90" height="3.30" fill="#228B22"/>
<rect x="680.10" y="20.05" width="6.90" height="5.30" fill="#000"/>
<rect x="681.10" y="21.05" width="4.90" height="3.30" fill="#90EE90"/>
<rect x="680.10" y="28.80" width="6.90" height="5.30" fill="#000"/>
<rect x="681.10" y="29.80" width="4.90" height="3.30" fill="#CD0000"/>
</svg>
<span class="tk" style="transform:translate(59.30px,147.45px) rotate(0.03deg)">0</span>
<span class="tk" style="transform:translate(91.36px,147.45px) rotate(0.03deg)">20</span>
<span class="tk" style="transform:translate(123.42px,147.45px) rotate(0.03deg)">40</span>
<span class="tk" style="transform:translate(155.48px,147.45px) rotate(0.03deg)">60</span>
<span class="tk" style="transform:translate(187.54px,147.45px) rotate(0.03deg)">80</span>
<span class="tk" style="transform:translate(219.60px,147.45px) rotate(0.03deg)">100</span>
<span class="tk" style="transform:translate(234.40px,147.45px) rotate(0.03deg)">0</span>
<span class="tk" style="transform:translate(266.50px,147.45px) rotate(0.03deg)">1</span>
<span class="tk" style="transform:translate(298.60px,147.45px) rotate(0.03deg)">2</span>
<span class="tk" style="transform:translate(330.70px,147.45px) rotate(0.03deg)">3</span>
<span class="tk" style="transform:translate(419.30px,147.45px) rotate(0.03deg)">0</span>
<span class="tk" style="transform:translate(451.36px,147.45px) rotate(0.03deg)">20</span>
<span class="tk" style="transform:translate(483.42px,147.45px) rotate(0.03deg)">40</span>
<span class="tk" style="transform:translate(515.48px,147.45px) rotate(0.03deg)">60</span>
<span class="tk" style="transform:translate(547.54px,147.45px) rotate(0.03deg)">80</span>
<span class="tk" style="transform:translate(579.60px,147.45px) rotate(0.03deg)">100</span>
<span class="tk" style="transform:translate(594.40px,147.45px) rotate(0.03deg)">0</span>
<span class="tk" style="transform:translate(626.50px,147.45px) rotate(0.03deg)">1</span>
<span class="tk" style="transform:translate(658.60px,147.45px) rotate(0.03deg)">2</span>
<span class="tk" style="transform:translate(690.70px,147.45px) rotate(0.03deg)">3</span>
<span class="tk" style="transform:translate(722.80px,147.45px) rotate(0.03deg)">4</span>
<span class="tk" style="transform:translate(754.90px,147.45px) rotate(0.03deg)">5</span>
<span class="lb" style="width:69.6px;transform:translate(0.00px,12.70px) rotate(0.03deg)">CM Bwt1</span>
<span class="lb" style="width:69.6px;transform:translate(360.00px,12.70px) rotate(0.03deg)">CM Bwt1</span>
<span class="lb" style="width:69.6px;transform:translate(0.00px,20.72px) rotate(0.03deg)">CM Bwt2</span>
<span class="lb" style="width:69.6px;transform:translate(360.00px,20.72px) rotate(0.03deg)">CM Bwt2</span>
<span class="lb" style="width:69.6px;transform:translate(0.00px,28.74px) rotate(0.03deg)">CM Bwa</span>
<span class="lb" style="width:69.6px;transform:translate(360.00px,28.74px) rotate(0.03deg)">CM Bwa</span>
<span class="lb" style="width:69.6px;transform:translate(0.00px,36.76px) rotate(0.03deg)">CM Bwa ann</span>
<span class="lb" style="width:69.6px;transform:translate(360.00px,36.76px) rotate(0.03deg)">CM Bwa ann</span>
<span class="lb" style="width:69.6px;transform:translate(0.00px,44.78px) rotate(0.03deg)">MapSplice 2</span>
<span class="lb" style="width:69.6px;transform:translate(360.00px,44.78px) rotate(0.03deg)">MapSplice 2</span>
<span class="lb" style="width:69.6px;transform:translate(0.00px,52.80px) rotate(0.03deg)">STAR 1–pass</span>
<span class="lb" style="width:69.6px;transform:translate(360.00px,52.80px) rotate(0.03deg)">STAR 1–pass</span>
<span class="lb" style="width:69.6px;transform:translate(0.00px,60.82px) rotate(0.03deg)">STAR 1–pass ann</span>
<span class="lb" style="width:69.6px;transform:translate(360.00px,60.82px) rotate(0.03deg)">STAR 1–pass ann</span>
<span class="lb" style="width:69.6px;transform:translate(0.00px,68.84px) rotate(0.03deg)">STAR 2–pass</span>
<span class="lb" style="width:69.6px;transform:translate(360.00px,68.84px) rotate(0.03deg)">STAR 2–pass</span>
<span class="lb" style="width:69.6px;transform:translate(0.00px,76.86px) rotate(0.03deg)">STAR 2–pass ann</span>
<span class="lb" style="width:69.6px;transform:translate(360.00px,76.86px) rotate(0.03deg)">STAR 2–pass ann</span>
<span class="lb" style="width:69.6px;transform:translate(0.00px,84.88px) rotate(0.03deg)">TopHat1</span>
<span class="lb" style="width:69.6px;transform:translate(360.00px,84.88px) rotate(0.03deg)">TopHat1</span>
<span class="lb" style="width:69.6px;transform:translate(0.00px,92.90px) rotate(0.03deg)">TopHat1 ann</span>
<span class="lb" style="width:69.6px;transform:translate(360.00px,92.90px) rotate(0.03deg)">TopHat1 ann</span>
<span class="lb" style="width:69.6px;transform:translate(0.00px,100.92px) rotate(0.03deg)">TopHat2</span>
<span class="lb" style="width:69.6px;transform:translate(360.00px,100.92px) rotate(0.03deg)">TopHat2</span>
<span class="lb" style="width:69.6px;transform:translate(0.00px,108.94px) rotate(0.03deg)">TopHat2 ann</span>
<span class="lb" style="width:69.6px;transform:translate(360.00px,108.94px) rotate(0.03deg)">TopHat2 ann</span>
<span class="lb" style="width:69.6px;transform:translate(0.00px,116.96px) rotate(0.03deg)">GSNAP</span>
<span class="lb" style="width:69.6px;transform:translate(360.00px,116.96px) rotate(0.03deg)">GSNAP</span>
<span class="lb" style="width:69.6px;transform:translate(0.00px,124.98px) rotate(0.03deg)">GSNAP ann</span>
<span class="lb" style="width:69.6px;transform:translate(360.00px,124.98px) rotate(0.03deg)">GSNAP ann</span>
<span class="tk" style="transform:translate(59.30px,331.00px) rotate(0.03deg)">0</span>
<span class="tk" style="transform:translate(91.36px,331.00px) rotate(0.03deg)">20</span>
<span class="tk" style="transform:translate(123.42px,331.00px) rotate(0.03deg)">40</span>
<span class="tk" style="transform:translate(155.48px,331.00px) rotate(0.03deg)">60</span>
<span class="tk" style="transform:translate(187.54px,331.00px) rotate(0.03deg)">80</span>
<span class="tk" style="transform:translate(219.60px,331.00px) rotate(0.03deg)">100</span>
<span class="tk" style="transform:translate(234.40px,331.00px) rotate(0.03deg)">0</span>
<span class="tk" style="transform:translate(266.50px,331.00px) rotate(0.03deg)">1</span>
<span class="tk" style="transform:translate(298.60px,331.00px) rotate(0.03deg)">2</span>
<span class="tk" style="transform:translate(330.70px,331.00px) rotate(0.03deg)">3</span>
<span class="tk" style="transform:translate(419.30px,331.00px) rotate(0.03deg)">0</span>
<span class="tk" style="transform:translate(451.36px,331.00px) rotate(0.03deg)">20</span>
<span class="tk" style="transform:translate(483.42px,331.00px) rotate(0.03deg)">40</span>
<span class="tk" style="transform:translate(515.48px,331.00px) rotate(0.03deg)">60</span>
<span class="tk" style="transform:translate(547.54px,331.00px) rotate(0.03deg)">80</span>
<span class="tk" style="transform:translate(579.60px,331.00px) rotate(0.03deg)">100</span>
<span class="tk" style="transform:translate(594.40px,331.00px) rotate(0.03deg)">0</span>
<span class="tk" style="transform:translate(626.50px,331.00px) rotate(0.03deg)">1</span>
<span class="tk" style="transform:translate(658.60px,331.00px) rotate(0.03deg)">2</span>
<span class="tk" style="transform:translate(690.70px,331.00px) rotate(0.03deg)">3</span>
<span class="tk" style="transform:translate(722.80px,331.00px) rotate(0.03deg)">4</span>
<span class="tk" style="transform:translate(754.90px,331.00px) rotate(0.03deg)">5</span>
<span class="lb" style="width:69.6px;transform:translate(0.00px,196.10px) rotate(0.03deg)">CM Bwt1</span>
<span class="lb" style="width:69.6px;transform:translate(360.00px,196.10px) rotate(0.03deg)">CM Bwt1</span>
<span class="lb" style="width:69.6px;transform:translate(0.00px,204.12px) rotate(0.03deg)">CM Bwt2</span>
<span class="lb" style="width:69.6px;transform:translate(360.00px,204.12px) rotate(0.03deg)">CM Bwt2</span>
<span class="lb" style="width:69.6px;transform:translate(0.00px,212.14px) rotate(0.03deg)">CM Bwa</span>
<span class="lb" style="width:69.6px;transform:translate(360.00px,212.14px) rotate(0.03deg)">CM Bwa</span>
<span class="lb" style="width:69.6px;transform:translate(0.00px,220.16px) rotate(0.03deg)">CM Bwa ann</span>
<span class="lb" style="width:69.6px;transform:translate(360.00px,220.16px) rotate(0.03deg)">CM Bwa ann</span>
<span class="lb" style="width:69.6px;transform:translate(0.00px,228.18px) rotate(0.03deg)">MapSplice 2</span>
<span class="lb" style="width:69.6px;transform:translate(360.00px,228.18px) rotate(0.03deg)">MapSplice 2</span>
<span class="lb" style="width:69.6px;transform:translate(0.00px,236.20px) rotate(0.03deg)">STAR 1–pass</span>
<span class="lb" style="width:69.6px;transform:translate(360.00px,236.20px) rotate(0.03deg)">STAR 1–pass</span>
<span class="lb" style="width:69.6px;transform:translate(0.00px,244.22px) rotate(0.03deg)">STAR 1–pass ann</span>
<span class="lb" style="width:69.6px;transform:translate(360.00px,244.22px) rotate(0.03deg)">STAR 1–pass ann</span>
<span class="lb" style="width:69.6px;transform:translate(0.00px,252.24px) rotate(0.03deg)">STAR 2–pass</span>
<span class="lb" style="width:69.6px;transform:translate(360.00px,252.24px) rotate(0.03deg)">STAR 2–pass</span>
<span class="lb" style="width:69.6px;transform:translate(0.00px,260.26px) rotate(0.03deg)">STAR 2–pass ann</span>
<span class="lb" style="width:69.6px;transform:translate(360.00px,260.26px) rotate(0.03deg)">STAR 2–pass ann</span>
<span class="lb" style="width:69.6px;transform:translate(0.00px,268.28px) rotate(0.03deg)">TopHat1</span>
<span class="lb" style="width:69.6px;transform:translate(360.00px,268.28px) rotate(0.03deg)">TopHat1</span>
<span class="lb" style="width:69.6px;transform:translate(0.00px,276.30px) rotate(0.03deg)">TopHat1 ann</span>
<span class="lb" style="width:69.6px;transform:translate(360.00px,276.30px) rotate(0.03deg)">TopHat1 ann</span>
<span class="lb" style="width:69.6px;transform:translate(0.00px,284.32px) rotate(0.03deg)">TopHat2</span>
<span class="lb" style="width:69.6px;transform:translate(360.00px,284.32px) rotate(0.03deg)">TopHat2</span>
<span class="lb" style="width:69.6px;transform:translate(0.00px,292.34px) rotate(0.03deg)">TopHat2 ann</span>
<span class="lb" style="width:69.6px;transform:translate(360.00px,292.34px) rotate(0.03deg)">TopHat2 ann</span>
<span class="lb" style="width:69.6px;transform:translate(0.00px,300.36px) rotate(0.03deg)">GSNAP</span>
<span class="lb" style="width:69.6px;transform:translate(360.00px,300.36px) rotate(0.03deg)">GSNAP</span>
<span class="lb" style="width:69.6px;transform:translate(0.00px,308.38px) rotate(0.03deg)">GSNAP ann</span>
<span class="lb" style="width:69.6px;transform:translate(360.00px,308.38px) rotate(0.03deg)">GSNAP ann</span>
<span class="tt" style="transform:translate(0.00px,-1.30px) rotate(0.03deg)">(A) Unspliced Reads</span>
<span class="tt" style="transform:translate(365.30px,-1.30px) rotate(0.03deg)">(B) Spliced Reads</span>
<span class="xt" style="width:200px;transform:translate(113.20px,347.30px) rotate(0.03deg)">Percent of simulated unspliced reads</span>
<span class="xt" style="width:200px;transform:translate(508.50px,347.30px) rotate(0.03deg)">Percent of simulated spliced reads</span>
<span class="yt" style="left:-45.30px;top:64.30px;width:100px">Simulation 1</span>
<span class="yt" style="left:-45.30px;top:247.70px;width:100px">Simulation 2</span>
<span class="lt" style="transform:translate(692.90px,9.20px) rotate(0.03deg)">Perfectly mapped</span>
<span class="lt" style="transform:translate(692.90px,18.00px) rotate(0.03deg)">Part correctly mapped</span>
<span class="lt" style="transform:translate(692.90px,26.80px) rotate(0.03deg)">Mapped, no base correct</span>
</div></body></html>
